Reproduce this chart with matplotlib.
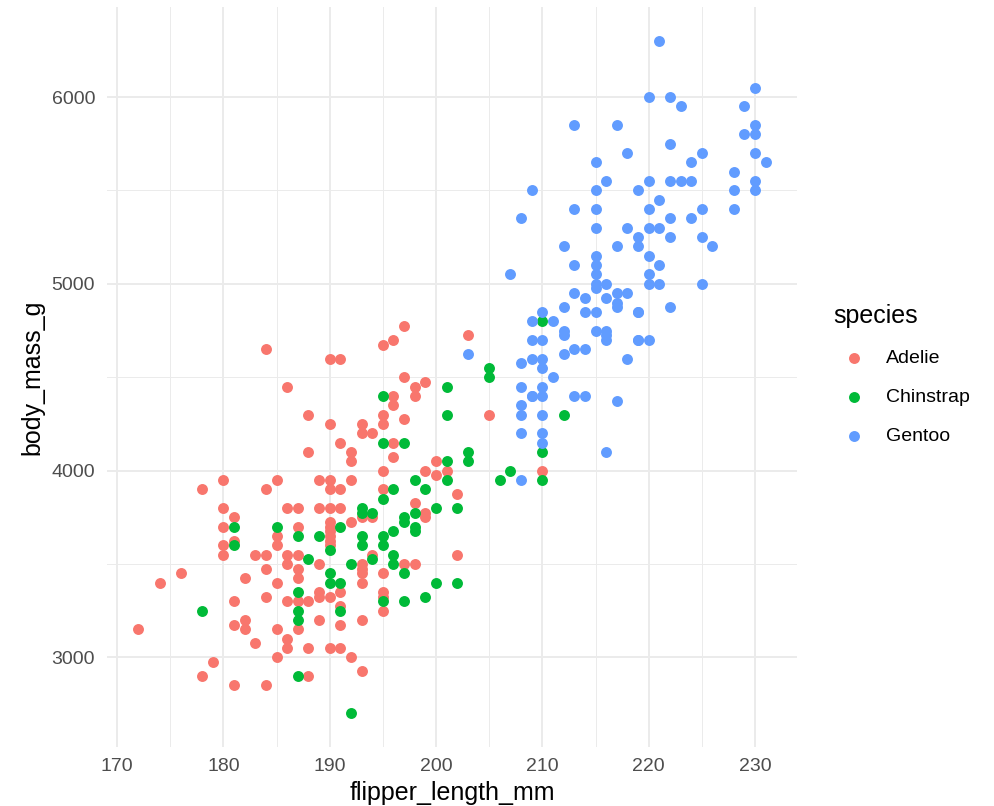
import matplotlib
matplotlib.use("Agg")
import matplotlib.pyplot as plt
from matplotlib.ticker import MultipleLocator

plt.rcParams["font.family"] = ["Liberation Sans", "DejaVu Sans"]

species = ["Adelie", "Chinstrap", "Gentoo"]
colors = ["#F8766D", "#00BA38", "#619CFF"]

# values (flipper_length_mm, body_mass_g)
adelie_flipper = [
    184, 186, 180, 178, 184, 185, 186, 180, 181, 180, 185, 185, 181, 180, 180, 183, 184, 186, 186, 184,
    176, 174, 182, 185, 184, 186, 181, 172, 181, 182, 182, 183, 185, 186, 186, 185, 179, 178, 181, 184,
    197, 196, 195, 190, 191, 197, 196, 196, 188, 195, 190, 193, 195, 197, 193, 194, 191, 196, 188, 192,
    192, 196, 195, 189, 190, 190, 191, 192, 195, 187, 189, 190, 191,
    193, 194, 192, 190, 190, 190, 190, 190, 190, 187, 187, 187, 187, 189, 193, 193, 193, 193, 194, 197,
    195, 189, 189, 190, 191, 187, 188, 195, 195, 195, 191, 191, 189, 193, 188, 190, 191, 192, 193, 188, 187,
    203, 198, 198, 199, 205, 202, 198, 199, 199, 200, 199, 200, 201, 202, 198, 210,
]
adelie_mass = [
    4650, 4450, 3950, 3900, 3900, 3950, 3800, 3800, 3750, 3700, 3650, 3600, 3625, 3600, 3550, 3550, 3550, 3550, 3500, 3475,
    3450, 3400, 3425, 3400, 3325, 3300, 3300, 3150, 3175, 3200, 3150, 3075, 3150, 3100, 3050, 3000, 2975, 2900, 2850, 2850,
    4775, 4700, 4675, 4600, 4600, 4500, 4400, 4350, 4300, 4300, 4250, 4250, 4250, 4275, 4200, 4200, 4150, 4150, 4100, 4100,
    4050, 4075, 4000, 3950, 3950, 3900, 3900, 3950, 3900, 3800, 3800, 3800, 3800,
    3750, 3750, 3725, 3725, 3700, 3675, 3650, 3625, 3600, 3700, 3550, 3475, 3425, 3500, 3500, 3475, 3450, 3400, 3550, 3500,
    3450, 3350, 3325, 3325, 3350, 3300, 3300, 3350, 3325, 3250, 3275, 3175, 3200, 3200, 3050, 3050, 3050, 3000, 2925, 2900, 3150,
    4725, 4450, 4400, 4475, 4300, 3875, 3825, 3775, 3750, 4050, 4000, 3975, 4000, 3550, 3500, 4000,
]

chinstrap_flipper = [
    181, 185, 181, 178, 195, 195, 197, 196, 195, 193, 193, 194, 191, 190, 187, 189, 193, 193, 195, 195,
    196, 197, 197, 188, 192, 194, 196, 196, 197, 190, 190, 191, 187, 187, 187, 195, 197, 191, 187, 192,
    205, 205, 201, 201, 203, 203, 201, 198, 201, 206, 207, 199, 200, 202, 198, 198, 198, 200, 202, 199,
    210, 212, 210, 210,
]
chinstrap_mass = [
    3700, 3700, 3600, 3250, 4400, 4150, 4150, 3900, 3850, 3800, 3775, 3775, 3700, 3575, 3650, 3650, 3650, 3600, 3650, 3600,
    3675, 3750, 3725, 3525, 3500, 3525, 3550, 3500, 3450, 3450, 3400, 3400, 3350, 3250, 3200, 3300, 3300, 3250, 2900, 2700,
    4550, 4500, 4450, 4300, 4100, 4050, 4050, 3950, 3950, 3950, 4000, 3900, 3800, 3800, 3775, 3700, 3675, 3400, 3400, 3325,
    4800, 4300, 4100, 3950,
]

gentoo_flipper = [
    203, 208, 209, 208, 209, 208, 208, 208, 208,
    213, 217, 218, 215, 216, 209, 215, 219, 213, 215, 208, 215, 218, 219, 219, 212, 217, 215, 213, 215,
    215, 207, 215, 216, 213, 218,
    215, 214, 216, 217, 217, 212, 214, 215, 219, 210, 209, 211, 212, 212, 215, 216, 216, 216, 219, 209,
    210, 212, 213, 214, 218, 210, 210, 211, 210, 209, 210, 213, 214, 217, 210, 210, 210, 216,
    221, 220, 222, 223, 230, 229, 230, 229, 230, 222, 225, 230, 231, 224, 228, 220, 222, 223, 224, 230,
    230, 228, 221, 220, 225, 228, 222, 224, 220, 221, 222, 225, 226,
    220, 221, 220, 220, 221, 225, 217, 219, 222, 219, 220,
]
gentoo_mass = [
    4625, 4575, 4600, 4450, 4400, 4350, 4300, 4200, 3950,
    5850, 5850, 5700, 5650, 5550, 5500, 5500, 5500, 5400, 5400, 5350, 5300, 5300, 5250, 5200, 5200, 5200, 5150, 5100, 5100,
    5050, 5050, 5000, 5000, 4950, 4950,
    4975, 4925, 4925, 4900, 4875, 4875, 4850, 4850, 4850, 4850, 4800, 4800, 4750, 4725, 4750, 4750, 4725, 4700, 4700, 4700,
    4700, 4625, 4650, 4650, 4600, 4600, 4550, 4500, 4450, 4400, 4400, 4400, 4400, 4375, 4300, 4200, 4150, 4100,
    6300, 6000, 6000, 5950, 6050, 5950, 5850, 5800, 5800, 5750, 5700, 5700, 5650, 5650, 5600, 5550, 5550, 5550, 5550, 5550,
    5500, 5500, 5450, 5400, 5400, 5400, 5350, 5350, 5300, 5300, 5250, 5250, 5200,
    5150, 5100, 5050, 5000, 5000, 5000, 4950, 4850, 4875, 4700, 4700,
]

x_ticks = [170, 180, 190, 200, 210, 220, 230]
y_ticks = [3000, 4000, 5000, 6000]

fig = plt.figure(figsize=(9.94, 8.06), dpi=100)
ax = fig.add_axes([0.1076, 0.0732, 0.6942, 0.9176])

series = [
    (adelie_flipper, adelie_mass),
    (chinstrap_flipper, chinstrap_mass),
    (gentoo_flipper, gentoo_mass),
]
for (fx, my), name, col in zip(series, species, colors):
    ax.scatter(fx, my, s=62, color=col, linewidths=0, label=name, zorder=3)

ax.set_xlim(169.05, 233.95)
ax.set_ylim(2520, 6480)
ax.set_xticks(x_ticks)
ax.set_yticks(y_ticks)
ax.xaxis.set_minor_locator(MultipleLocator(5))
ax.yaxis.set_minor_locator(MultipleLocator(500))
ax.grid(which="major", color="#EBEBEB", linewidth=1.4, zorder=0)
ax.grid(which="minor", color="#EBEBEB", linewidth=0.7, zorder=0)
ax.set_axisbelow(True)
for s in ax.spines.values():
    s.set_visible(False)
ax.tick_params(which="both", length=0, labelsize=14, labelcolor="#4D4D4D")
ax.tick_params(axis="y", pad=8.5)
ax.tick_params(axis="x", pad=8)

ax.set_xlabel("flipper_length_mm", fontsize=18, labelpad=4)
ax.set_ylabel("body_mass_g", fontsize=18, labelpad=5)

leg = ax.legend(title="species", loc="center left", bbox_to_anchor=(1.042, 0.503),
                frameon=False, fontsize=14, title_fontsize=18, handletextpad=0.62,
                labelspacing=1.1, handlelength=2.06, alignment="left", borderaxespad=0)

fig.savefig("out.png", dpi=100, facecolor="white")
